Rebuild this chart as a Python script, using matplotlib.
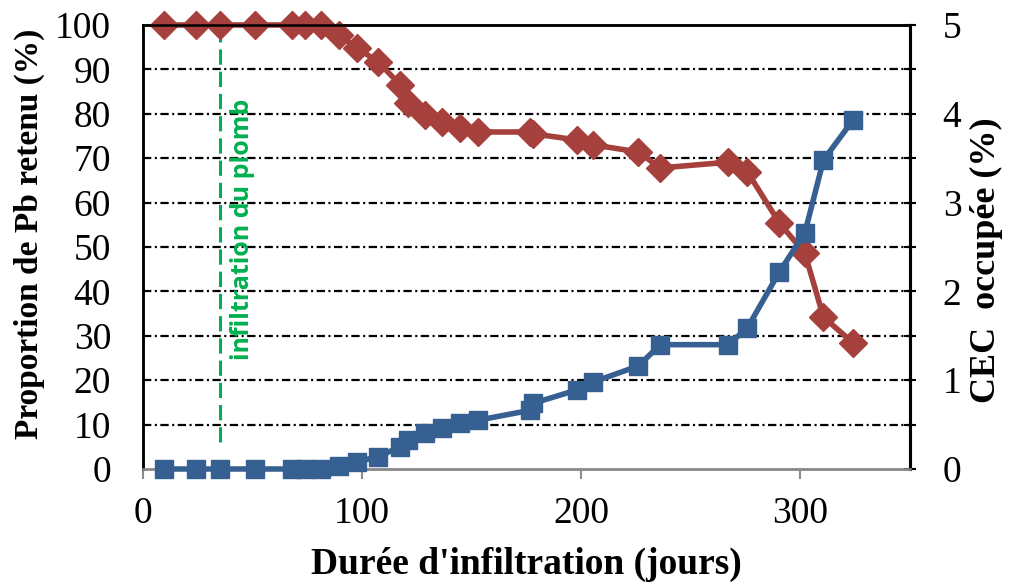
import numpy as np
import matplotlib.pyplot as plt
from matplotlib.ticker import MultipleLocator

plt.rcParams['font.family'] = ['Liberation Serif', 'DejaVu Serif']
plt.rcParams['lines.scale_dashes'] = False

# Sampling days
days = [9.5, 24, 35, 51, 68, 74, 81, 89.5, 97.7, 107.3, 117.4, 121, 128.8, 136.5,
        144.7, 153, 176.5, 178, 198, 205.5, 226, 236, 267, 275.8, 290.4, 302,
        310.5, 324]

# Proportion of Pb retained (%)
pb_retenu = [100, 100, 100, 100, 100, 100, 100, 97.7, 94.8, 91.7, 86.5, 82.4, 79.7,
             78.2, 76.8, 75.9, 75.9, 75.5, 74.1, 73.0, 71.4, 67.8, 69.1, 66.9,
             55.4, 48.6, 34.2, 28.4]

# Occupied CEC (%)
cec_occupee = [0, 0, 0, 0, 0, 0, 0, 0.03, 0.08, 0.14, 0.25, 0.33, 0.40, 0.46, 0.52,
               0.55, 0.66, 0.74, 0.89, 0.98, 1.16, 1.40, 1.40, 1.59, 2.22, 2.66,
               3.48, 3.93]

debut_plomb = 35  # day lead infiltration starts

red = '#A5403D'
blue = '#376092'
green = '#00B050'

fig = plt.figure(figsize=(10.15, 5.88), dpi=100)
ax = fig.add_axes([0.1409, 0.2024, 0.7557, 0.7551])
ax2 = ax.twinx()

# dash-dot horizontal grid
for v in range(10, 100, 10):
    ax.axhline(v, color='black', lw=1.6, linestyle=(0, (6, 2.5, 1.5, 2.5)), zorder=1)

ax.plot(days, pb_retenu, color=red, lw=4, marker='D', markersize=14,
        markeredgecolor=red, zorder=3, clip_on=False)
ax2.plot(days, cec_occupee, color=blue, lw=4, marker='s', markersize=13,
         markeredgecolor=blue, zorder=3, clip_on=False)

ax.plot([debut_plomb, debut_plomb], [6, 97.5], color=green, lw=2.2,
        linestyle=(0, (11, 5)), zorder=2)
ax.text(45.5, 54, 'infiltration du plomb', rotation=90, color=green,
        fontsize=18, fontweight='bold', family='Open Sans', ha='center', va='center')

ax.set_xlim(0, 350)
ax.set_ylim(0, 100)
ax2.set_ylim(0, 5)
ax.set_xticks([0, 100, 200, 300])
ax.set_yticks(range(0, 101, 10))
ax2.yaxis.set_major_locator(MultipleLocator(1))
ax2.yaxis.set_minor_locator(MultipleLocator(0.5))

for a in (ax, ax2):
    a.spines['top'].set_color('black')
    a.spines['top'].set_linewidth(1.8)
    a.spines['left'].set_linewidth(1.8)
    a.spines['right'].set_linewidth(2.2)
    a.spines['bottom'].set_color('#8c8c8c')
    a.spines['bottom'].set_linewidth(1.8)

ax.tick_params(axis='y', length=0, pad=23, labelsize=27)
ax.tick_params(axis='x', length=7, width=1.5, color='#8c8c8c', pad=13, labelsize=27)
ax2.tick_params(axis='y', which='both', direction='inout', length=9, width=1.5,
                pad=19, labelsize=27)

ax.set_xlabel("Durée d'infiltration (jours)", fontsize=27, fontweight='bold', labelpad=11)
ax.set_ylabel('Proportion de Pb retenu (%)', fontsize=24, fontweight='bold')
ax.yaxis.set_label_coords(-0.128, 0.53)
ax2.set_ylabel('CEC  occupée (%)', fontsize=26, fontweight='bold')
ax2.yaxis.set_label_coords(1.078, 0.47)

fig.savefig('out.png', dpi=100)
